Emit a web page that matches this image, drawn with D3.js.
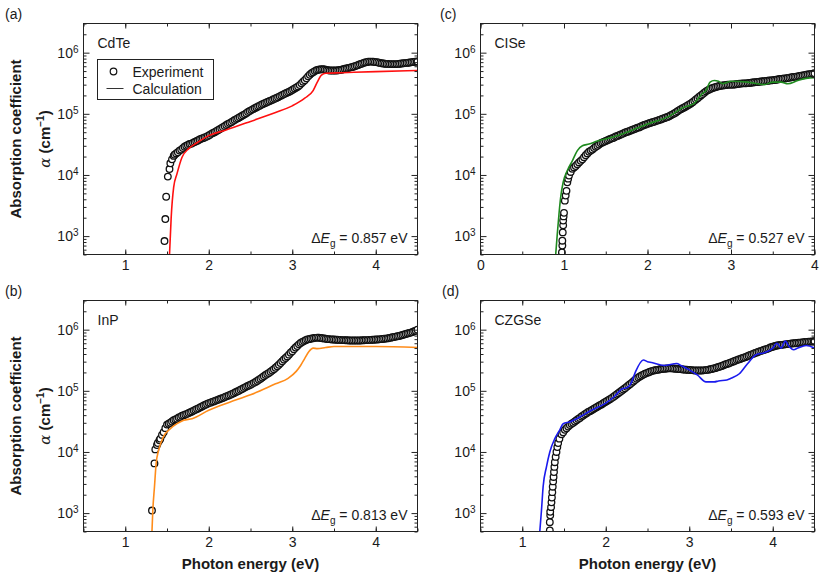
<!DOCTYPE html>
<html>
<head>
<meta charset="utf-8">
<script src="https://cdn.jsdelivr.net/npm/d3@7"></script>
<style>
  body { margin: 0; background: #fff; }
  text { font-family: "Liberation Sans", Arial, sans-serif; fill: #1a1a1a; }
</style>
</head>
<body>
<svg id="fig" width="825" height="579"></svg>
<script>
// ---- data: [photon energy (eV), alpha (cm^-1)] ----
const cdteExp = [
  [1.47,830],[1.48,1900],[1.49,4400],[1.51,9400],[1.53,12500],[1.54,15500],[1.56,18000],[1.58,20500],
  [1.59,21500],[1.61,2.25e4],[1.63,2.35e4],[1.65,2.5e4],[1.67,2.6e4],[1.69,2.75e4],[1.71,2.9e4],
  [1.73,3.0e4],[1.75,3.1e4],[1.77,3.2e4],[1.79,3.25e4],[1.81,3.35e4],[1.83,3.45e4],[1.85,3.55e4],
  [1.87,3.65e4],[1.89,3.8e4],[1.91,3.9e4],[1.93,4.0e4],[1.95,4.1e4],[1.97,4.2e4],[1.99,4.35e4],
  [2.01,4.5e4],[2.03,4.7e4],[2.05,4.85e4],[2.07,5.0e4],[2.09,5.2e4],[2.11,5.4e4],[2.13,5.6e4],
  [2.15,5.8e4],[2.17,6.05e4],[2.19,6.3e4],[2.21,6.55e4],[2.23,6.8e4],[2.25,7.05e4],[2.27,7.3e4],
  [2.29,7.6e4],[2.31,7.9e4],[2.33,8.2e4],[2.35,8.5e4],[2.37,8.8e4],[2.39,9.1e4],[2.41,9.45e4],
  [2.43,9.8e4],[2.45,1.02e5],[2.47,1.07e5],[2.49,1.11e5],[2.51,1.15e5],[2.53,1.19e5],[2.55,1.23e5],
  [2.57,1.27e5],[2.59,1.32e5],[2.61,1.36e5],[2.63,1.41e5],[2.65,1.45e5],[2.67,1.49e5],[2.69,1.53e5],
  [2.71,1.58e5],[2.73,1.62e5],[2.75,1.66e5],[2.77,1.71e5],[2.79,1.77e5],[2.81,1.82e5],[2.83,1.87e5],
  [2.85,1.93e5],[2.87,2.0e5],[2.89,2.06e5],[2.91,2.13e5],[2.93,2.19e5],[2.95,2.25e5],[2.97,2.32e5],
  [2.99,2.4e5],[3.01,2.5e5],[3.03,2.6e5],[3.05,2.7e5],[3.07,2.8e5],[3.09,2.95e5],[3.11,3.15e5],
  [3.13,3.35e5],[3.15,3.55e5],[3.17,3.8e5],[3.19,4.1e5],[3.21,4.35e5],[3.23,4.6e5],[3.25,4.8e5],
  [3.27,5.0e5],[3.29,5.15e5],[3.31,5.25e5],[3.33,5.3e5],[3.35,5.35e5],[3.37,5.35e5],[3.39,5.3e5],
  [3.41,5.2e5],[3.43,5.15e5],[3.45,5.1e5],[3.47,5.1e5],[3.49,5.1e5],[3.51,5.1e5],[3.53,5.1e5],
  [3.55,5.15e5],[3.57,5.2e5],[3.59,5.25e5],[3.61,5.35e5],[3.63,5.45e5],[3.65,5.5e5],[3.67,5.6e5],
  [3.69,5.7e5],[3.71,5.8e5],[3.73,5.9e5],[3.75,6.0e5],[3.77,6.15e5],[3.79,6.3e5],[3.81,6.45e5],
  [3.83,6.6e5],[3.85,6.75e5],[3.87,6.9e5],[3.89,7.0e5],[3.91,7.1e5],[3.93,7.15e5],[3.95,7.15e5],
  [3.97,7.1e5],[3.99,7.05e5],[4.01,7.0e5],[4.03,6.9e5],[4.05,6.8e5],[4.07,6.7e5],[4.09,6.65e5],
  [4.11,6.6e5],[4.13,6.55e5],[4.15,6.55e5],[4.17,6.5e5],[4.19,6.5e5],[4.21,6.5e5],[4.23,6.5e5],
  [4.25,6.5e5],[4.27,6.55e5],[4.29,6.6e5],[4.31,6.65e5],[4.33,6.7e5],[4.35,6.75e5],[4.37,6.8e5],
  [4.39,6.85e5],[4.41,6.9e5],[4.43,7.0e5],[4.45,7.05e5],[4.47,7.1e5],[4.49,7.15e5],[4.50,7.2e5]
];
const cdteCalc = [
  [1.53,500],[1.55,2000],[1.58,6300],[1.62,10500],[1.68,19500],[1.76,27000],[1.85,33000],[2.0,44000],
  [2.2,54000],[2.5,75000],[2.8,1.05e5],[3.0,1.35e5],[3.15,1.8e5],[3.25,2.4e5],[3.3,3.3e5],[3.35,4.3e5],
  [3.4,4.6e5],[3.6,4.7e5],[4.0,4.9e5],[4.5,5.1e5]
];

const inpExp = [
  [1.32,1100],[1.35,6500],[1.36,11000],[1.38,13000],[1.39,14000],[1.41,15500],[1.42,16500],[1.44,19000],
  [1.46,21000],[1.48,24500],[1.50,2.8e4],[1.52,2.9e4],[1.54,3.0e4],[1.56,3.15e4],[1.58,3.3e4],
  [1.60,3.4e4],[1.62,3.5e4],[1.64,3.65e4],[1.66,3.75e4],[1.68,3.9e4],[1.70,4.0e4],[1.72,4.1e4],
  [1.74,4.2e4],[1.76,4.35e4],[1.78,4.45e4],[1.80,4.6e4],[1.82,4.75e4],[1.84,4.9e4],[1.86,5.05e4],
  [1.88,5.2e4],[1.90,5.4e4],[1.92,5.55e4],[1.94,5.75e4],[1.96,5.9e4],[1.98,6.1e4],[2.00,6.3e4],
  [2.02,6.4e4],[2.04,6.6e4],[2.06,6.7e4],[2.08,6.9e4],[2.10,7.05e4],[2.12,7.2e4],[2.14,7.4e4],
  [2.16,7.55e4],[2.18,7.75e4],[2.20,8.0e4],[2.22,8.2e4],[2.24,8.4e4],[2.26,8.65e4],[2.28,8.9e4],
  [2.30,9.15e4],[2.32,9.45e4],[2.34,9.75e4],[2.36,1.0e5],[2.38,1.04e5],[2.40,1.07e5],[2.42,1.11e5],
  [2.44,1.15e5],[2.46,1.19e5],[2.48,1.22e5],[2.50,1.26e5],[2.52,1.3e5],[2.54,1.35e5],[2.56,1.4e5],
  [2.58,1.45e5],[2.60,1.52e5],[2.62,1.58e5],[2.64,1.65e5],[2.66,1.73e5],[2.68,1.81e5],[2.70,1.89e5],
  [2.72,1.96e5],[2.74,2.05e5],[2.76,2.15e5],[2.78,2.26e5],[2.80,2.38e5],[2.82,2.52e5],[2.84,2.67e5],
  [2.86,2.85e5],[2.88,3.05e5],[2.90,3.25e5],[2.92,3.45e5],[2.94,3.65e5],[2.96,3.9e5],[2.98,4.2e5],
  [3.00,4.45e5],[3.02,4.8e5],[3.04,5.1e5],[3.06,5.4e5],[3.08,5.75e5],[3.10,6.05e5],[3.12,6.3e5],
  [3.14,6.5e5],[3.16,6.7e5],[3.18,6.9e5],[3.20,7.0e5],[3.22,7.1e5],[3.24,7.2e5],[3.26,7.3e5],
  [3.28,7.35e5],[3.30,7.4e5],[3.32,7.4e5],[3.34,7.3e5],[3.36,7.25e5],[3.38,7.2e5],[3.40,7.1e5],
  [3.42,7.05e5],[3.44,7.0e5],[3.46,6.95e5],[3.48,6.9e5],[3.50,6.9e5],[3.52,6.85e5],[3.54,6.85e5],
  [3.56,6.8e5],[3.58,6.8e5],[3.60,6.75e5],[3.62,6.75e5],[3.64,6.7e5],[3.66,6.7e5],[3.68,6.65e5],
  [3.70,6.65e5],[3.72,6.65e5],[3.74,6.65e5],[3.76,6.65e5],[3.78,6.65e5],[3.80,6.65e5],[3.82,6.65e5],
  [3.84,6.7e5],[3.86,6.7e5],[3.88,6.75e5],[3.90,6.75e5],[3.92,6.8e5],[3.94,6.8e5],[3.96,6.85e5],
  [3.98,6.85e5],[4.00,6.9e5],[4.02,6.9e5],[4.04,6.95e5],[4.06,7.0e5],[4.08,7.05e5],[4.10,7.1e5],
  [4.12,7.15e5],[4.14,7.2e5],[4.16,7.3e5],[4.18,7.4e5],[4.20,7.5e5],[4.22,7.6e5],[4.24,7.7e5],
  [4.26,7.8e5],[4.28,7.9e5],[4.30,8.05e5],[4.32,8.2e5],[4.34,8.35e5],[4.36,8.5e5],[4.38,8.65e5],
  [4.40,8.8e5],[4.42,8.95e5],[4.44,9.15e5],[4.46,9.4e5],[4.48,9.6e5],[4.50,1.0e6]
];
const inpCalc = [
  [1.32,500],[1.33,1100],[1.35,2700],[1.37,6500],[1.40,10700],[1.46,18000],[1.54,24000],[1.62,29000],
  [1.70,33000],[1.8,35000],[2.0,48000],[2.25,65000],[2.5,86000],[2.8,1.3e5],[2.95,1.6e5],[3.05,2.1e5],
  [3.1,2.6e5],[3.15,3.4e5],[3.2,4.4e5],[3.25,5.0e5],[3.3,4.9e5],[3.4,5.1e5],[3.5,5.3e5],[4.0,5.3e5],
  [4.5,5.1e5]
];

const ciseExp = [
  [0.975,540],[0.98,700],[0.98,840],[0.985,1150],[0.99,1500],[0.99,1800],[0.995,2100],
  [1.00,2400],[1.01,3800],[1.02,4600],[1.03,5500],[1.04,7600],[1.05,8700],[1.06,9800],[1.08,11200],
  [1.10,12600],[1.12,13300],[1.14,1.4e4],[1.16,1.5e4],[1.18,1.6e4],[1.20,1.7e4],[1.22,1.8e4],
  [1.24,1.95e4],[1.26,2.1e4],[1.28,2.25e4],[1.30,2.4e4],[1.32,2.5e4],[1.34,2.6e4],[1.36,2.75e4],
  [1.38,2.9e4],[1.40,3.0e4],[1.42,3.15e4],[1.44,3.3e4],[1.46,3.4e4],[1.48,3.5e4],[1.50,3.6e4],
  [1.52,3.7e4],[1.54,3.8e4],[1.56,3.9e4],[1.58,4.0e4],[1.60,4.1e4],[1.62,4.25e4],[1.64,4.35e4],
  [1.66,4.45e4],[1.68,4.6e4],[1.70,4.7e4],[1.72,4.85e4],[1.74,5.0e4],[1.76,5.1e4],[1.78,5.2e4],
  [1.80,5.35e4],[1.82,5.5e4],[1.84,5.6e4],[1.86,5.75e4],[1.88,5.9e4],[1.90,6.0e4],[1.92,6.2e4],
  [1.94,6.4e4],[1.96,6.55e4],[1.98,6.7e4],[2.00,6.85e4],[2.02,7.0e4],[2.04,7.15e4],[2.06,7.3e4],
  [2.08,7.45e4],[2.10,7.6e4],[2.12,7.75e4],[2.14,7.9e4],[2.16,8.1e4],[2.18,8.3e4],[2.20,8.5e4],
  [2.22,8.7e4],[2.24,8.9e4],[2.26,9.1e4],[2.28,9.45e4],[2.30,9.8e4],[2.32,1.01e5],[2.34,1.05e5],
  [2.36,1.1e5],[2.38,1.15e5],[2.40,1.19e5],[2.42,1.23e5],[2.44,1.27e5],[2.46,1.32e5],[2.48,1.37e5],
  [2.50,1.42e5],[2.52,1.48e5],[2.54,1.55e5],[2.56,1.63e5],[2.58,1.72e5],[2.60,1.8e5],[2.62,1.9e5],
  [2.64,2.0e5],[2.66,2.1e5],[2.68,2.22e5],[2.70,2.33e5],[2.72,2.42e5],[2.74,2.5e5],[2.76,2.58e5],
  [2.78,2.65e5],[2.80,2.7e5],[2.82,2.75e5],[2.84,2.8e5],[2.86,2.85e5],[2.88,2.88e5],[2.90,2.9e5],
  [2.92,2.93e5],[2.94,2.95e5],[2.96,2.98e5],[2.98,3.0e5],[3.00,3.0e5],[3.02,3.0e5],[3.04,3.02e5],
  [3.06,3.05e5],[3.08,3.08e5],[3.10,3.1e5],[3.12,3.12e5],[3.14,3.15e5],[3.16,3.15e5],[3.18,3.15e5],
  [3.20,3.18e5],[3.22,3.2e5],[3.24,3.22e5],[3.26,3.25e5],[3.28,3.28e5],[3.30,3.3e5],[3.32,3.32e5],
  [3.34,3.35e5],[3.36,3.38e5],[3.38,3.4e5],[3.40,3.42e5],[3.42,3.45e5],[3.44,3.48e5],[3.46,3.5e5],
  [3.48,3.52e5],[3.50,3.55e5],[3.52,3.58e5],[3.54,3.6e5],[3.56,3.65e5],[3.58,3.7e5],[3.60,3.72e5],
  [3.62,3.75e5],[3.64,3.78e5],[3.66,3.8e5],[3.68,3.85e5],[3.70,3.9e5],[3.72,3.95e5],[3.74,4.0e5],
  [3.76,4.02e5],[3.78,4.05e5],[3.80,4.1e5],[3.82,4.15e5],[3.84,4.2e5],[3.86,4.25e5],[3.88,4.3e5],
  [3.90,4.35e5],[3.92,4.4e5],[3.94,4.45e5],[3.96,4.5e5],[3.98,4.55e5],[4.00,4.6e5]
];
const ciseCalc = [
  [0.90,490],[0.92,1100],[0.94,2300],[0.96,4300],[0.99,7600],[1.04,11800],[1.10,17000],[1.16,25000],
  [1.22,30000],[1.30,32000],[1.40,36000],[1.6,42000],[1.8,53000],[2.0,68000],[2.25,90000],[2.45,1.3e5],
  [2.5,1.36e5],[2.55,1.45e5],[2.65,2.1e5],[2.7,2.4e5],[2.75,3.3e5],[2.8,3.5e5],[2.85,3.4e5],[2.9,3.1e5],
  [3.0,3.4e5],[3.2,3.3e5],[3.4,3.0e5],[3.5,3.3e5],[3.6,3.3e5],[3.68,3.1e5],[3.8,3.5e5],[3.9,3.8e5],
  [4.0,3.9e5]
];

const czgseExp = [
  [1.33,520],[1.33,710],[1.335,920],[1.335,1050],[1.345,1250],[1.35,1500],[1.355,1800],[1.36,2200],
  [1.365,2700],[1.37,3300],[1.375,3900],[1.38,4700],[1.385,5700],[1.39,6800],[1.40,8300],[1.41,10000],
  [1.42,12000],[1.43,14000],[1.445,16500],[1.47,19500],[1.49,21000],[1.51,23000],[1.53,2.45e4],
  [1.55,2.6e4],[1.57,2.75e4],[1.59,2.9e4],[1.61,3.0e4],[1.63,3.15e4],[1.65,3.3e4],[1.67,3.45e4],
  [1.69,3.6e4],[1.71,3.8e4],[1.73,3.95e4],[1.75,4.15e4],[1.77,4.3e4],[1.79,4.5e4],[1.81,4.65e4],
  [1.83,4.8e4],[1.85,5.0e4],[1.87,5.2e4],[1.89,5.4e4],[1.91,5.6e4],[1.93,5.8e4],[1.95,6.0e4],
  [1.97,6.25e4],[1.99,6.5e4],[2.01,6.75e4],[2.03,7.0e4],[2.05,7.3e4],[2.07,7.6e4],[2.09,7.95e4],
  [2.11,8.3e4],[2.13,8.7e4],[2.15,9.1e4],[2.17,9.55e4],[2.19,1.0e5],[2.21,1.05e5],[2.23,1.1e5],
  [2.25,1.16e5],[2.27,1.22e5],[2.29,1.28e5],[2.31,1.35e5],[2.33,1.42e5],[2.35,1.5e5],[2.37,1.58e5],
  [2.39,1.65e5],[2.41,1.72e5],[2.43,1.78e5],[2.45,1.84e5],[2.47,1.9e5],[2.49,1.95e5],[2.51,2.0e5],
  [2.53,2.05e5],[2.55,2.1e5],[2.57,2.14e5],[2.59,2.17e5],[2.61,2.2e5],[2.63,2.22e5],[2.65,2.25e5],
  [2.67,2.27e5],[2.69,2.29e5],[2.71,2.3e5],[2.73,2.32e5],[2.75,2.33e5],[2.77,2.33e5],[2.79,2.33e5],
  [2.81,2.32e5],[2.83,2.3e5],[2.85,2.29e5],[2.87,2.28e5],[2.89,2.26e5],[2.91,2.25e5],[2.93,2.23e5],
  [2.95,2.22e5],[2.97,2.21e5],[2.99,2.2e5],[3.01,2.19e5],[3.03,2.18e5],[3.05,2.16e5],[3.07,2.15e5],
  [3.09,2.15e5],[3.11,2.15e5],[3.13,2.15e5],[3.15,2.15e5],[3.17,2.16e5],[3.19,2.18e5],[3.21,2.2e5],
  [3.23,2.22e5],[3.25,2.25e5],[3.27,2.28e5],[3.29,2.32e5],[3.31,2.35e5],[3.33,2.4e5],[3.35,2.45e5],
  [3.37,2.5e5],[3.39,2.55e5],[3.41,2.62e5],[3.43,2.7e5],[3.45,2.75e5],[3.47,2.8e5],[3.49,2.88e5],
  [3.51,2.95e5],[3.53,3.02e5],[3.55,3.1e5],[3.57,3.18e5],[3.59,3.25e5],[3.61,3.32e5],[3.63,3.4e5],
  [3.65,3.48e5],[3.67,3.55e5],[3.69,3.65e5],[3.71,3.75e5],[3.73,3.85e5],[3.75,3.95e5],[3.77,4.05e5],
  [3.79,4.15e5],[3.81,4.25e5],[3.83,4.35e5],[3.85,4.45e5],[3.87,4.55e5],[3.89,4.65e5],[3.91,4.75e5],
  [3.93,4.85e5],[3.95,4.95e5],[3.97,5.1e5],[3.99,5.2e5],[4.01,5.3e5],[4.03,5.4e5],[4.05,5.5e5],
  [4.07,5.55e5],[4.09,5.6e5],[4.11,5.65e5],[4.13,5.7e5],[4.15,5.75e5],[4.17,5.8e5],[4.19,5.85e5],
  [4.21,5.9e5],[4.23,5.95e5],[4.25,5.98e5],[4.27,6.0e5],[4.29,6.05e5],[4.31,6.1e5],[4.33,6.15e5],
  [4.35,6.2e5],[4.37,6.25e5],[4.39,6.3e5],[4.41,6.32e5],[4.43,6.35e5],[4.45,6.38e5],[4.47,6.4e5],
  [4.49,6.42e5],[4.50,6.45e5]
];
const czgseCalc = [
  [1.21,500],[1.23,1100],[1.25,2700],[1.29,5700],[1.33,10000],[1.39,16500],[1.45,23000],[1.49,29000],
  [1.57,31000],[1.7,38000],[1.8,46000],[2.0,63000],[2.1,80000],[2.2,1.08e5],[2.25,1.12e5],[2.3,1.3e5],
  [2.35,1.95e5],[2.45,3.2e5],[2.5,3.0e5],[2.55,2.9e5],[2.7,2.6e5],[2.85,2.8e5],[2.9,2.6e5],[3.0,2.2e5],
  [3.1,1.8e5],[3.2,1.4e5],[3.3,1.4e5],[3.35,1.45e5],[3.45,1.5e5],[3.5,1.6e5],[3.6,1.9e5],[3.7,2.8e5],
  [3.8,3.9e5],[3.9,4.2e5],[4.0,5.0e5],[4.05,6.0e5],[4.1,5.0e5],[4.15,6.5e5],[4.2,5.2e5],[4.25,4.7e5],
  [4.3,5.0e5],[4.4,5.5e5],[4.5,5.0e5]
];

const yMajorTicks = [1e3, 1e4, 1e5, 1e6];
const yDomain = [500, 3e6];

// ---- panel layout ----
const panels = [
  { letter: '(a)', letterX: 5, name: 'CdTe', exp: cdteExp, calc: cdteCalc, color: '#ff1010', dEg: '0.857',
    xDomain: [0.5, 4.5], xTicks: [1, 2, 3, 4], left: 83.5, right: 417.5, top: 23.5, bottom: 254.5,
    yLabel: true, xLabel: false, legend: true },
  { letter: '(c)', letterX: 440, name: 'CISe', exp: ciseExp, calc: ciseCalc, color: '#1f8a1f', dEg: '0.527',
    xDomain: [0, 4], xTicks: [0, 1, 2, 3, 4], left: 480.5, right: 814.5, top: 23.5, bottom: 254.5,
    yLabel: false, xLabel: false, legend: false },
  { letter: '(b)', letterX: 5, name: 'InP', exp: inpExp, calc: inpCalc, color: '#ff8c1a', dEg: '0.813',
    xDomain: [0.5, 4.5], xTicks: [1, 2, 3, 4], left: 83.5, right: 417.5, top: 300.5, bottom: 531.5,
    yLabel: true, xLabel: true, legend: false },
  { letter: '(d)', letterX: 442, name: 'CZGSe', exp: czgseExp, calc: czgseCalc, color: '#1a1aee', dEg: '0.593',
    xDomain: [0.5, 4.5], xTicks: [1, 2, 3, 4], left: 480.5, right: 814.5, top: 300.5, bottom: 531.5,
    yLabel: false, xLabel: true, legend: false }
];

const svg = d3.select('#fig');
const FONT = '"Liberation Sans", Arial, sans-serif';

// minor log ticks 2..9 x 10^k inside the domain
const yMinorTicks = [];
for (let k = 2; k <= 6; k++) {
  for (let m = 2; m <= 9; m++) {
    const v = m * Math.pow(10, k);
    if (v >= yDomain[0] && v <= yDomain[1]) yMinorTicks.push(v);
  }
}

function styleAxis(g) {
  g.attr('font-size', 14).attr('font-family', FONT).attr('color', '#222');
  g.select('.domain').remove();
}

function drawPanel(p, i) {
  const g = svg.append('g');
  const x = d3.scaleLinear().domain(p.xDomain).range([p.left, p.right]);
  const y = d3.scaleLog().domain(yDomain).range([p.bottom, p.top]);
  const xMinor = d3.range(p.xDomain[0], p.xDomain[1] + 0.001, 0.5);

  // clip the data to the frame
  const clipId = 'clip' + i;
  svg.append('clipPath').attr('id', clipId)
    .append('rect')
    .attr('x', p.left).attr('y', p.top)
    .attr('width', p.right - p.left).attr('height', p.bottom - p.top);

  const plot = g.append('g').attr('clip-path', `url(#${clipId})`);

  // experiment: open circles
  plot.selectAll('circle')
    .data(p.exp)
    .join('circle')
      .attr('cx', d => x(d[0]))
      .attr('cy', d => y(d[1]))
      .attr('r', 3.3)
      .attr('fill', '#fff')
      .attr('stroke', '#111')
      .attr('stroke-width', 1.3);

  // calculation: line
  const line = d3.line().x(d => x(d[0])).y(d => y(d[1])).curve(d3.curveMonotoneX);
  plot.append('path')
    .datum(p.calc)
    .attr('d', line)
    .attr('fill', 'none')
    .attr('stroke', p.color)
    .attr('stroke-width', 1.6);

  // ---- axes, ticks inward on all four sides ----
  styleAxis(g.append('g').attr('transform', `translate(0,${p.bottom})`)
    .call(d3.axisBottom(x).tickValues(p.xTicks).tickSize(-5).tickPadding(6).tickFormat(d3.format('d'))));
  styleAxis(g.append('g').attr('transform', `translate(0,${p.bottom})`)
    .call(d3.axisBottom(x).tickValues(xMinor).tickSize(-3).tickFormat('')));
  styleAxis(g.append('g').attr('transform', `translate(0,${p.top})`)
    .call(d3.axisTop(x).tickValues(p.xTicks).tickSize(-5).tickFormat('')));
  styleAxis(g.append('g').attr('transform', `translate(0,${p.top})`)
    .call(d3.axisTop(x).tickValues(xMinor).tickSize(-3).tickFormat('')));

  const leftAx = g.append('g').attr('transform', `translate(${p.left},0)`)
    .call(d3.axisLeft(y).tickValues(yMajorTicks).tickSize(-6).tickPadding(5));
  styleAxis(leftAx);
  leftAx.selectAll('.tick text').each(function(d) {
    const t = d3.select(this);
    t.text(null);
    t.append('tspan').text('10');
    t.append('tspan').attr('dy', '-0.5em').attr('font-size', '10px').text(Math.round(Math.log10(d)));
  });
  styleAxis(g.append('g').attr('transform', `translate(${p.left},0)`)
    .call(d3.axisLeft(y).tickValues(yMinorTicks).tickSize(-3).tickFormat('')));
  styleAxis(g.append('g').attr('transform', `translate(${p.right},0)`)
    .call(d3.axisRight(y).tickValues(yMajorTicks).tickSize(-6).tickFormat('')));
  styleAxis(g.append('g').attr('transform', `translate(${p.right},0)`)
    .call(d3.axisRight(y).tickValues(yMinorTicks).tickSize(-3).tickFormat('')));

  // frame
  g.append('rect')
    .attr('x', p.left).attr('y', p.top)
    .attr('width', p.right - p.left).attr('height', p.bottom - p.top)
    .attr('fill', 'none').attr('stroke', '#222').attr('stroke-width', 1);

  // panel letter and material
  g.append('text').attr('x', p.letterX).attr('y', p.top - 5)
    .attr('font-size', 14).text(p.letter);
  g.append('text').attr('x', p.left + 14).attr('y', p.top + 24)
    .attr('font-size', 14).text(p.name);

  // band gap shift
  const eg = g.append('text')
    .attr('x', p.right - 10).attr('y', p.bottom - 12)
    .attr('text-anchor', 'end').attr('font-size', 14);
  eg.append('tspan').text('\u0394');
  eg.append('tspan').attr('font-style', 'italic').text('E');
  eg.append('tspan').attr('font-size', 10).attr('dy', 4).text('g');
  eg.append('tspan').attr('dy', -4).text('\u00a0= ' + p.dEg + ' eV');

  if (p.yLabel) {
    const cy = (p.top + p.bottom) / 2;
    g.append('text')
      .attr('transform', `translate(21,${cy}) rotate(-90)`)
      .attr('text-anchor', 'middle').attr('font-size', 15).attr('font-weight', 'bold')
      .text('Absorption coefficient');
    const t2 = g.append('text')
      .attr('transform', `translate(50,${cy}) rotate(-90)`)
      .attr('text-anchor', 'middle').attr('font-size', 15).attr('font-weight', 'bold');
    t2.append('tspan').attr('font-style', 'italic').attr('font-weight', 'normal')
      .style('font-family', '"DejaVu Serif", "Liberation Serif", serif').text('\u03b1');
    t2.append('tspan').text(' (cm');
    t2.append('tspan').attr('font-size', 10).attr('dy', -6).text('\u22121');
    t2.append('tspan').attr('dy', 6).text(')');
  }

  if (p.xLabel) {
    g.append('text')
      .attr('x', (p.left + p.right) / 2).attr('y', p.bottom + 37)
      .attr('text-anchor', 'middle').attr('font-size', 15).attr('font-weight', 'bold')
      .text('Photon energy (eV)');
  }

  if (p.legend) {
    const lx = p.left + 14, ly = p.top + 36;
    g.append('rect').attr('x', lx).attr('y', ly).attr('width', 116).attr('height', 40)
      .attr('fill', '#fff').attr('stroke', '#222').attr('stroke-width', 1);
    g.append('circle').attr('cx', lx + 16).attr('cy', ly + 12).attr('r', 3.3)
      .attr('fill', '#fff').attr('stroke', '#111').attr('stroke-width', 1.2);
    g.append('line').attr('x1', lx + 9).attr('x2', lx + 26).attr('y1', ly + 29).attr('y2', ly + 29)
      .attr('stroke', '#333').attr('stroke-width', 1);
    g.append('text').attr('x', lx + 35).attr('y', ly + 17).attr('font-size', 14).text('Experiment');
    g.append('text').attr('x', lx + 35).attr('y', ly + 34).attr('font-size', 14).text('Calculation');
  }
}

panels.forEach(drawPanel);
</script>
</body>
</html>
